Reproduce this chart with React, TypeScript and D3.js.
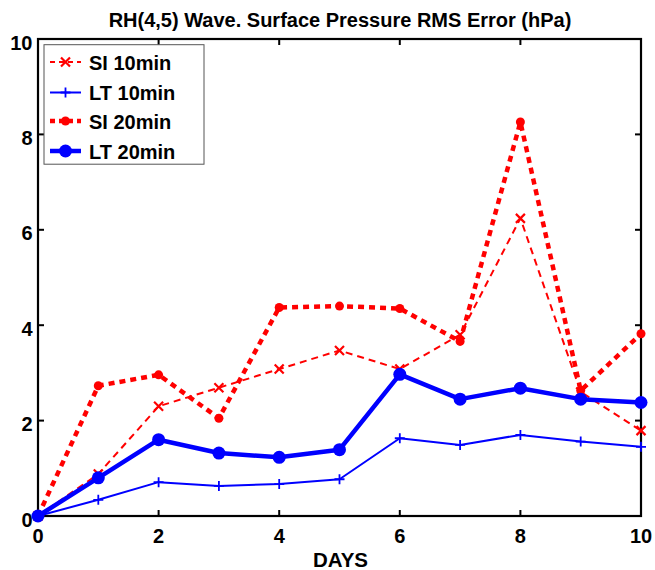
import React from "react";
import * as d3 from "d3";

const days = [0, 1, 2, 3, 4, 5, 6, 7, 8, 9, 10];
const si10 = [0, 0.88, 2.3, 2.69, 3.08, 3.47, 3.08, 3.8, 6.24, 2.6, 1.79];
const lt10 = [0, 0.34, 0.71, 0.63, 0.67, 0.77, 1.63, 1.49, 1.7, 1.56, 1.45];
const si20 = [0, 2.73, 2.96, 2.05, 4.37, 4.4, 4.35, 3.66, 8.26, 2.63, 3.82];
const lt20 = [0, 0.8, 1.6, 1.32, 1.23, 1.39, 2.97, 2.45, 2.68, 2.45, 2.38];
const xTicks = [0, 2, 4, 6, 8, 10];
const yTicks = [0, 2, 4, 6, 8, 10];
const seriesNames = ["SI 10min", "LT 10min", "SI 20min", "LT 20min"];

const W = 655;
const H = 570;
const L = 38, R = 641, T = 39, B = 516;
const FONT = "'Liberation Sans', Arial, Helvetica, sans-serif";

type Style = { color: string; width: number; dash?: string; marker: "x" | "+" | "dot" | "circle" };
const styles: Style[] = [
  { color: "#ff0000", width: 2, dash: "7,5", marker: "x" },
  { color: "#0000ff", width: 2, marker: "+" },
  { color: "#ff0000", width: 4.5, dash: "6,5", marker: "dot" },
  { color: "#0000ff", width: 4.5, marker: "circle" },
];

function Marker({ x, y, s }: { x: number; y: number; s: Style }) {
  if (s.marker === "x") {
    const d = 4.5;
    return (
      <path d={`M${x - d},${y - d}L${x + d},${y + d}M${x - d},${y + d}L${x + d},${y - d}`} stroke={s.color} strokeWidth={2.2} />
    );
  }
  if (s.marker === "+") {
    const d = 5;
    return <path d={`M${x - d},${y}L${x + d},${y}M${x},${y - d}L${x},${y + d}`} stroke={s.color} strokeWidth={1.8} />;
  }
  if (s.marker === "dot") return <circle cx={x} cy={y} r={4.5} fill={s.color} />;
  return <circle cx={x} cy={y} r={6.5} fill={s.color} />;
}

export default function App() {
  const x = d3.scaleLinear().domain([0, 10]).range([L, R]);
  const y = d3.scaleLinear().domain([0, 10]).range([B, T]);
  const all = [si10, lt10, si20, lt20];
  const line = d3
    .line<number>()
    .x((_, i) => x(days[i]))
    .y((v) => y(v));

  const legY = [62, 92.5, 121, 151];

  return (
    <svg width={W} height={H} style={{ position: "absolute", left: 0, top: 0, background: "#fff" }} fontFamily={FONT}>
      <rect x={0} y={0} width={W} height={H} fill="#fff" />
      <text x={340} y={26.7} textAnchor="middle" fontSize={20} fontWeight="bold">
        RH(4,5) Wave. Surface Pressure RMS Error (hPa)
      </text>
      {/* ticks */}
      {xTicks.map((t) => (
        <g key={"xt" + t}>
          <line x1={x(t)} x2={x(t)} y1={B} y2={B - 6} stroke="#000" strokeWidth={2} />
          <line x1={x(t)} x2={x(t)} y1={T} y2={T + 6} stroke="#000" strokeWidth={2} />
          <text x={x(t)} y={543.3} textAnchor="middle" fontSize={20} fontWeight="bold">
            {t}
          </text>
        </g>
      ))}
      {yTicks.map((t) => (
        <g key={"yt" + t}>
          <line x1={L} x2={L + 6} y1={y(t)} y2={y(t)} stroke="#000" strokeWidth={2} />
          <line x1={R} x2={R - 6} y1={y(t)} y2={y(t)} stroke="#000" strokeWidth={2} />
          <text x={32.5} y={y(t) + 10.5} textAnchor="end" fontSize={20} fontWeight="bold">
            {t}
          </text>
        </g>
      ))}
      <rect x={L} y={T} width={R - L} height={B - T} fill="none" stroke="#000" strokeWidth={2.2} />
      <text x={340.5} y={566.5} textAnchor="middle" fontSize={20.5} fontWeight="bold">
        DAYS
      </text>
      {/* series */}
      {all.map((vals, k) => {
        const s = styles[k];
        return (
          <g key={"s" + k}>
            <path d={line(vals) || ""} fill="none" stroke={s.color} strokeWidth={s.width} strokeDasharray={s.dash} strokeLinejoin="round" />
            {vals.map((v, i) => (
              <Marker key={i} x={x(days[i])} y={y(v)} s={s} />
            ))}
          </g>
        );
      })}
      {/* legend */}
      <rect x={44} y={44.7} width={160} height={119.5} fill="#fff" stroke="#555" strokeWidth={1} />
      {seriesNames.map((n, k) => {
        const s = styles[k];
        return (
          <g key={"l" + k}>
            <line x1={50} x2={81} y1={legY[k]} y2={legY[k]} stroke={s.color} strokeWidth={s.width} strokeDasharray={s.dash ? "5,4" : undefined} />
            <Marker x={65.5} y={legY[k]} s={s} />
            <text x={89} y={legY[k] + 7.5} fontSize={20} fontWeight="bold">
              {n}
            </text>
          </g>
        );
      })}
    </svg>
  );
}
